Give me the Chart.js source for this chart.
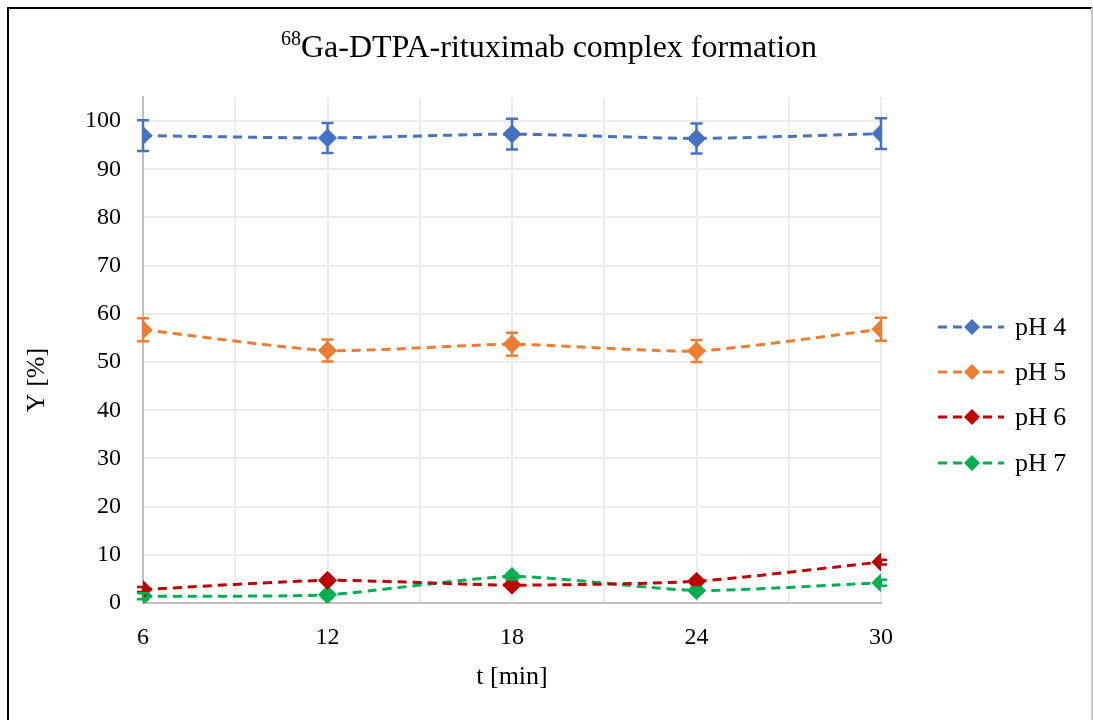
<!DOCTYPE html>
<html>
<head>
<meta charset="utf-8">
<title>68Ga-DTPA-rituximab complex formation</title>
<script src="https://cdn.jsdelivr.net/npm/chart.js@4"></script>
<style>
  html, body { margin: 0; padding: 0; background: #fff; }
  canvas { display: block; }
</style>
</head>
<body>
<canvas id="yieldChart" width="1093" height="720"></canvas>
<script>
// time points [min]
const times = [6, 12, 18, 24, 30];

// labelling yield Y [%] per pH, with error (±)
const ph4 = [97.0, 96.5, 97.3, 96.4, 97.4];
const ph4Err = [3.2, 3.1, 3.2, 3.1, 3.2];
const ph5 = [56.7, 52.4, 53.7, 52.3, 56.8];
const ph5Err = [2.4, 2.3, 2.4, 2.3, 2.4];
const ph6 = [2.8, 4.7, 3.7, 4.5, 8.5];
const ph6Err = [0.5, 0.5, 0.5, 0.5, 0.5];
const ph7 = [1.4, 1.7, 5.5, 2.6, 4.2];
const ph7Err = [0.6, 0.6, 0.6, 0.6, 0.6];

const seriesNames = ['pH 4', 'pH 5', 'pH 6', 'pH 7'];
const seriesColors = ['#4472C4', '#ED7D31', '#C00000', '#00B050'];

const FONT = '"Liberation Serif", "Times New Roman", serif';

function makeSet(name, color, values, errs) {
    return {
        label: name,
        data: times.map((t, i) => ({ x: t, y: values[i] })),
        errors: errs,
        borderColor: color,
        backgroundColor: color,
        borderWidth: 3,
        borderDash: [9, 6],
        pointStyle: 'rectRot',
        pointRadius: 9,
        pointHoverRadius: 9,
        pointBorderWidth: 1,
        tension: 0.2,
        fill: false
    };
}

// vertical error bars with caps
const errorBars = {
    id: 'errorBars',
    afterDatasetsDraw(chart) {
        const ctx = chart.ctx;
        const ys = chart.scales.y;
        chart.data.datasets.forEach((ds, di) => {
            const meta = chart.getDatasetMeta(di);
            ctx.save();
            ctx.strokeStyle = ds.borderColor;
            ctx.lineWidth = 2.5;
            meta.data.forEach((pt, i) => {
                const v = ds.data[i].y, e = ds.errors[i];
                const top = ys.getPixelForValue(v + e);
                const bot = ys.getPixelForValue(v - e);
                ctx.beginPath();
                ctx.moveTo(pt.x, top); ctx.lineTo(pt.x, bot);
                ctx.moveTo(pt.x - 6, top); ctx.lineTo(pt.x + 6, top);
                ctx.moveTo(pt.x - 6, bot); ctx.lineTo(pt.x + 6, bot);
                ctx.stroke();
            });
            ctx.restore();
        });
    }
};

// frame, title with superscript, axis titles and legend
const decorations = {
    id: 'decorations',
    beforeDraw(chart) {
        const ctx = chart.ctx;
        ctx.save();
        ctx.fillStyle = '#fff';
        ctx.fillRect(0, 0, chart.width, chart.height);
        ctx.lineWidth = 2;
        ctx.strokeStyle = '#000';
        ctx.beginPath();
        ctx.moveTo(8, 730); ctx.lineTo(8, 8); ctx.lineTo(1092, 8);
        ctx.stroke();
        ctx.strokeStyle = '#c8c8c8';
        ctx.beginPath();
        ctx.moveTo(1092, 8); ctx.lineTo(1092, 730);
        ctx.stroke();
        ctx.restore();
    },
    afterDraw(chart) {
        const ctx = chart.ctx;
        ctx.save();
        ctx.fillStyle = '#000';
        ctx.textBaseline = 'alphabetic';

        // title
        const sup = '68', main = 'Ga-DTPA-rituximab complex formation';
        ctx.font = '20px ' + FONT;
        const supW = ctx.measureText(sup).width;
        ctx.font = '32px ' + FONT;
        const mainW = ctx.measureText(main).width;
        const x0 = 549 - (supW + mainW) / 2;
        ctx.font = '20px ' + FONT;
        ctx.fillText(sup, x0, 45);
        ctx.font = '32px ' + FONT;
        ctx.fillText(main, x0 + supW, 57);

        // axis titles
        ctx.font = '26px ' + FONT;
        ctx.textAlign = 'center';
        ctx.fillText('t [min]', 512, 684);
        ctx.translate(37, 380);
        ctx.rotate(-Math.PI / 2);
        ctx.textBaseline = 'middle';
        ctx.fillText('Y [%]', 0, 0);
        ctx.restore();

        // legend
        ctx.save();
        const rows = [327, 372, 417, 463];
        chart.data.datasets.forEach((ds, i) => {
            const y = rows[i];
            ctx.strokeStyle = ds.borderColor;
            ctx.lineWidth = 3;
            ctx.setLineDash([9, 6]);
            ctx.beginPath();
            ctx.moveTo(938, y); ctx.lineTo(1004, y);
            ctx.stroke();
            ctx.setLineDash([]);
            ctx.fillStyle = ds.borderColor;
            ctx.beginPath();
            ctx.moveTo(972, y - 8); ctx.lineTo(980, y);
            ctx.lineTo(972, y + 8); ctx.lineTo(964, y);
            ctx.closePath();
            ctx.fill();
            ctx.fillStyle = '#000';
            ctx.font = '26px ' + FONT;
            ctx.textBaseline = 'middle';
            ctx.textAlign = 'left';
            ctx.fillText(ds.label, 1015, y + 1);
        });
        ctx.restore();
    }
};

const chart = new Chart(document.getElementById('yieldChart'), {
    type: 'line',
    data: {
        datasets: [
            makeSet(seriesNames[0], seriesColors[0], ph4, ph4Err),
            makeSet(seriesNames[1], seriesColors[1], ph5, ph5Err),
            makeSet(seriesNames[2], seriesColors[2], ph6, ph6Err),
            makeSet(seriesNames[3], seriesColors[3], ph7, ph7Err)
        ]
    },
    options: {
        responsive: false,
        animation: false,
        layout: { padding: { left: 0, right: 212, top: 97, bottom: 0 } },
        plugins: {
            legend: { display: false },
            title: { display: false },
            tooltip: { enabled: false }
        },
        scales: {
            x: {
                type: 'linear',
                min: 6, max: 30,
                ticks: {
                    stepSize: 3,
                    padding: 20,
                    color: '#000',
                    font: { family: FONT, size: 24 },
                    callback: v => (v % 6 === 0 ? String(v) : '')
                },
                grid: { color: '#ececec', lineWidth: 2, drawTicks: false },
                border: { color: '#bfbfbf', width: 2 },
                afterFit(scale) { scale.height = 720 - 603; }
            },
            y: {
                min: 0, max: 105,
                ticks: {
                    stepSize: 5,
                    padding: 22,
                    color: '#000',
                    font: { family: FONT, size: 24 },
                    callback: v => (v % 10 === 0 ? String(v) : '')
                },
                grid: { color: '#ececec', lineWidth: 2, drawTicks: false },
                border: { color: '#bfbfbf', width: 2 },
                afterFit(scale) { scale.width = 143; }
            }
        }
    },
    plugins: [decorations, errorBars]
});
</script>
</body>
</html>
